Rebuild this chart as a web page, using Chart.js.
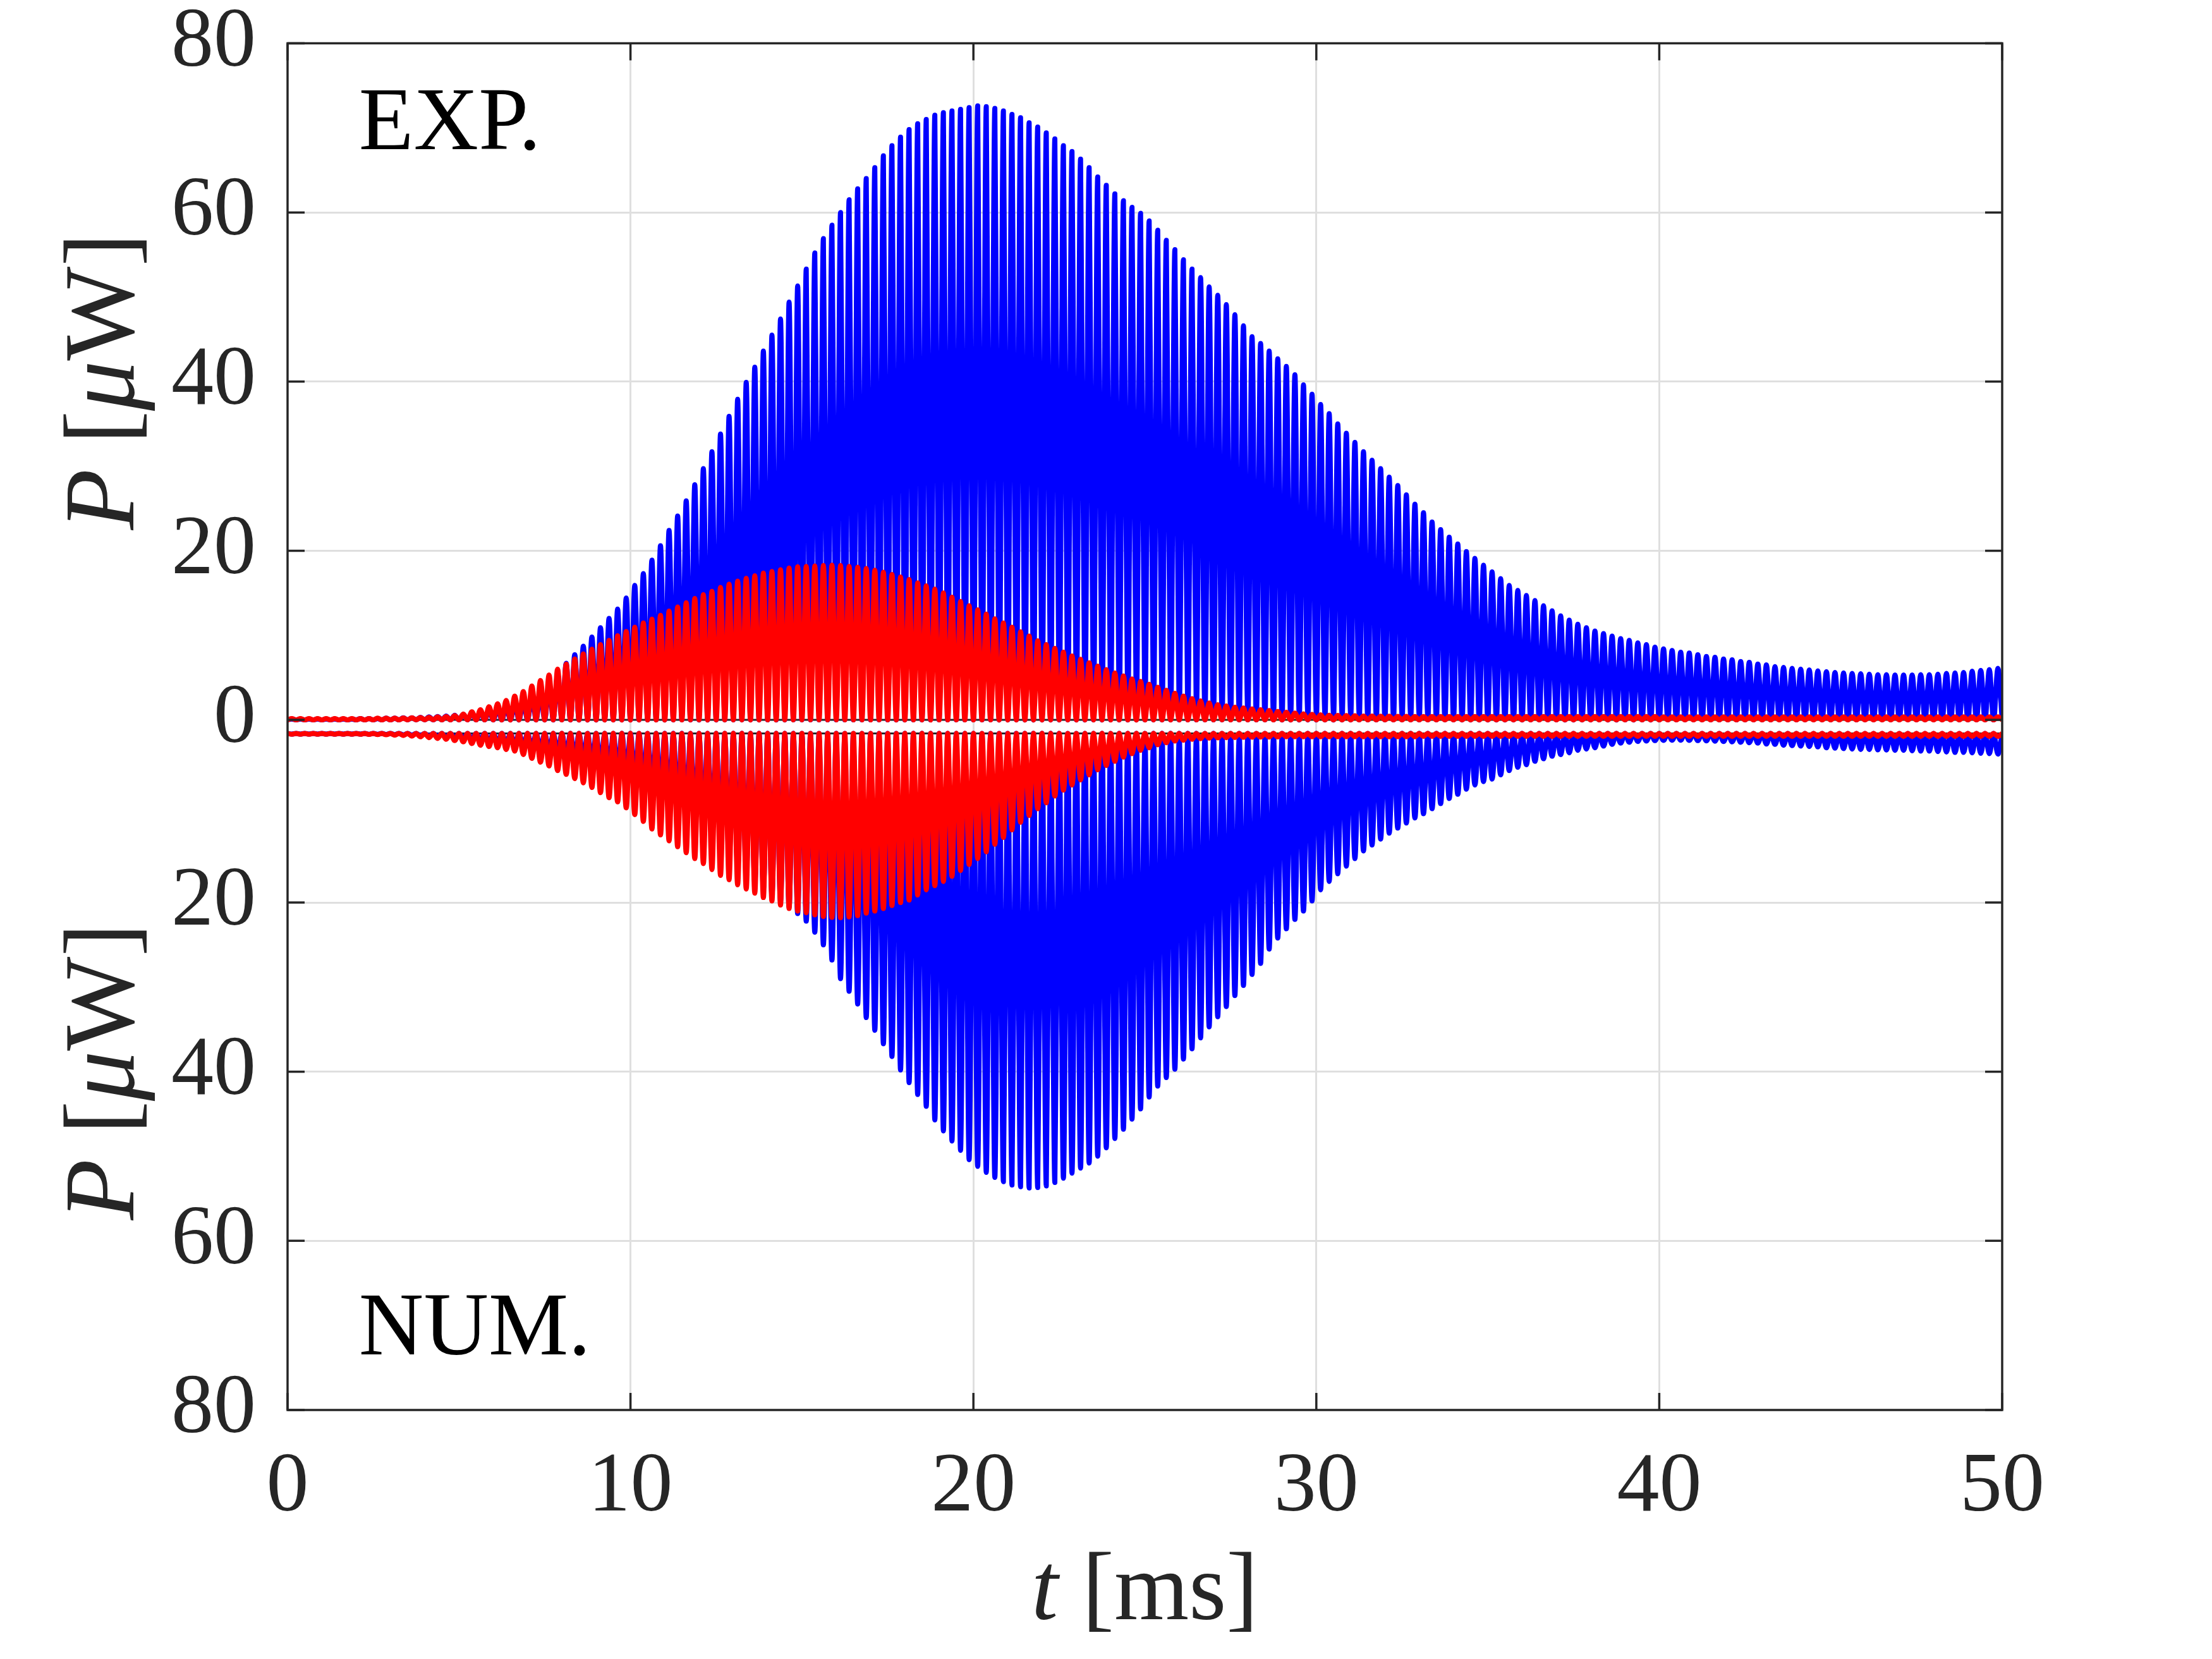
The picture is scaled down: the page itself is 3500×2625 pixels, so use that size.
<!DOCTYPE html>
<html>
<head>
<meta charset="utf-8">
<script src="https://cdn.jsdelivr.net/npm/chart.js@4.4.1/dist/chart.umd.min.js"></script>
<style>
  html, body { margin: 0; padding: 0; background: #fff; }
  canvas { display: block; }
</style>
</head>
<body>
<canvas id="powerChart" width="3500" height="2625"></canvas>
<script>
// peak power of each oscillation cycle [uW], cycles are 0.25 ms apart
const cyclePeriod = 0.25;      // ms
const troughPower = 0;         // power falls back to zero every cycle
const panelGap = 1.6;          // blank strip between the EXP. and NUM. halves

const expBlue = [
    0.1, 0.1, 0.1, 0.1, 0.1, 0.1, 0.1, 0.1, 0.15, 0.15, 0.15, 0.2, 0.2, 0.25, 0.25, 0.3, 0.35, 0.4, 0.45, 0.55,
    0.65, 0.8, 0.95, 1.1, 1.3, 1.55, 1.85, 2.2, 2.8, 3.4, 4.3, 5.4, 6.7, 7.7, 8.7, 9.8, 10.9, 12.0, 13.1, 14.4,
    15.9, 17.3, 18.9, 20.6, 22.4, 24.1, 25.9, 27.8, 29.7, 31.7, 33.8, 35.9, 37.9, 39.9, 41.7, 43.6, 45.5, 47.4, 49.4, 51.3,
    53.3, 55.2, 56.9, 58.5, 60.0, 61.5, 62.8, 64.0, 65.3, 66.7, 67.9, 68.9, 69.8, 70.5, 71.0, 71.5, 71.8, 72.0, 72.2, 72.4,
    72.6, 72.5, 72.3, 72.0, 71.6, 71.2, 70.6, 70.1, 69.4, 68.7, 67.9, 67.2, 66.3, 65.3, 64.2, 63.2, 62.2, 61.4, 60.6, 59.9,
    59.0, 57.9, 56.7, 55.6, 54.4, 53.3, 52.3, 51.2, 50.2, 49.1, 47.9, 46.6, 45.3, 44.5, 43.6, 42.7, 41.8, 40.8, 39.6, 38.5,
    37.3, 36.2, 35.0, 33.9, 32.8, 31.7, 30.7, 29.7, 28.7, 27.7, 26.6, 25.5, 24.5, 23.4, 22.5, 21.6, 20.8, 19.9, 19.1, 18.3,
    17.5, 16.7, 15.9, 15.3, 14.7, 14.1, 13.5, 12.9, 12.3, 11.8, 11.3, 10.9, 10.5, 10.2, 9.9, 9.6, 9.4, 9.1, 8.9, 8.6,
    8.4, 8.2, 8.0, 7.9, 7.7, 7.5, 7.4, 7.2, 7.1, 6.9, 6.8, 6.6, 6.5, 6.3, 6.2, 6.1, 6.0, 5.9, 5.8, 5.7,
    5.6, 5.55, 5.5, 5.45, 5.4, 5.35, 5.35, 5.3, 5.3, 5.3, 5.35, 5.35, 5.4, 5.5, 5.55, 5.6, 5.75, 5.85, 5.95, 6.1
];

const expRed = [
    0.15, 0.15, 0.15, 0.15, 0.15, 0.15, 0.15, 0.15, 0.15, 0.15, 0.2, 0.2, 0.2, 0.22, 0.25, 0.28, 0.3, 0.35, 0.4, 0.5,
    0.7, 0.95, 1.2, 1.55, 1.9, 2.3, 2.8, 3.35, 4.0, 4.65, 5.3, 6.0, 6.6, 7.2, 7.8, 8.35, 8.9, 9.4, 9.95, 10.45,
    10.95, 11.45, 11.9, 12.35, 12.85, 13.35, 13.85, 14.35, 14.8, 15.2, 15.65, 16.05, 16.4, 16.75, 17.05, 17.35, 17.55, 17.75, 17.95, 18.1,
    18.15, 18.2, 18.25, 18.3, 18.25, 18.15, 18.05, 17.9, 17.7, 17.45, 17.2, 16.9, 16.6, 16.2, 15.85, 15.45, 15.0, 14.5, 14.0, 13.5,
    13.0, 12.5, 11.95, 11.45, 10.95, 10.4, 9.9, 9.35, 8.9, 8.45, 8.0, 7.55, 7.15, 6.75, 6.35, 5.95, 5.55, 5.2, 4.85, 4.55,
    4.2, 3.85, 3.5, 3.15, 2.8, 2.5, 2.25, 2.0, 1.8, 1.65, 1.5, 1.4, 1.3, 1.2, 1.1, 1.0, 0.9, 0.8, 0.72, 0.65,
    0.6, 0.55, 0.52, 0.5, 0.48, 0.46, 0.45, 0.44, 0.43, 0.42, 0.41, 0.4, 0.4, 0.4, 0.4, 0.4, 0.4, 0.4, 0.4, 0.4,
    0.4, 0.4, 0.4, 0.4, 0.4, 0.4, 0.4, 0.4, 0.4, 0.4, 0.4, 0.4, 0.4, 0.4, 0.4, 0.4, 0.4, 0.4, 0.4, 0.4,
    0.35, 0.35, 0.35, 0.35, 0.35, 0.35, 0.35, 0.35, 0.35, 0.35, 0.35, 0.35, 0.35, 0.35, 0.35, 0.35, 0.35, 0.35, 0.35, 0.35,
    0.35, 0.35, 0.35, 0.35, 0.35, 0.35, 0.35, 0.35, 0.35, 0.35, 0.35, 0.35, 0.35, 0.35, 0.35, 0.35, 0.35, 0.35, 0.35, 0.35
];

const numBlue = [
    0.08, 0.08, 0.08, 0.08, 0.08, 0.08, 0.08, 0.08, 0.08, 0.1, 0.1, 0.12, 0.15, 0.18, 0.22, 0.26, 0.32, 0.38, 0.45, 0.52,
    0.6, 0.7, 0.8, 0.9, 1.05, 1.2, 1.35, 1.5, 1.7, 1.9, 2.1, 2.35, 2.6, 2.9, 3.2, 3.5, 3.9, 4.3, 4.7, 5.2,
    5.8, 6.4, 7.1, 7.8, 8.6, 9.4, 10.3, 11.2, 12.1, 13.0, 14.0, 15.0, 15.9, 16.8, 17.7, 18.4, 19.1, 19.8, 20.5, 21.3,
    22.2, 23.5, 25.0, 26.8, 29.0, 30.5, 32.0, 33.6, 35.1, 36.7, 38.2, 39.8, 41.3, 42.7, 44.1, 45.7, 47.0, 48.2, 49.3, 50.4,
    51.2, 51.9, 52.5, 53.0, 53.4, 53.6, 53.75, 53.7, 53.5, 53.1, 52.6, 52.0, 51.4, 50.8, 50.0, 49.0, 47.9, 46.8, 45.6, 44.4,
    43.0, 41.7, 40.7, 39.7, 38.5, 37.3, 36.0, 34.7, 33.5, 32.3, 31.0, 29.8, 28.5, 27.2, 25.5, 24.2, 23.1, 22.0, 21.0, 19.8,
    18.5, 17.5, 16.6, 15.7, 14.8, 13.9, 13.2, 12.5, 11.8, 11.2, 10.6, 10.0, 9.5, 8.9, 8.3, 7.7, 7.2, 6.6, 6.1, 5.7,
    5.4, 4.9, 4.4, 4.0, 3.7, 3.3, 3.0, 2.7, 2.5, 2.3, 2.0, 1.85, 1.7, 1.5, 1.3, 1.15, 1.05, 0.95, 0.9, 0.85,
    0.82, 0.8, 0.8, 0.82, 0.85, 0.88, 0.92, 0.96, 1.0, 1.05, 1.1, 1.15, 1.25, 1.3, 1.4, 1.45, 1.5, 1.55, 1.6, 1.7,
    1.75, 1.8, 1.85, 1.9, 1.9, 1.95, 1.97, 2.0, 2.0, 2.05, 2.1, 2.1, 2.15, 2.2, 2.25, 2.25, 2.3, 2.35, 2.4, 2.45
];

const numRed = [
    0.1, 0.1, 0.1, 0.1, 0.1, 0.1, 0.1, 0.1, 0.1, 0.12, 0.14, 0.16, 0.2, 0.25, 0.32, 0.4, 0.5, 0.6, 0.7, 0.85,
    1.0, 1.2, 1.4, 1.55, 1.7, 1.9, 2.1, 2.5, 2.95, 3.4, 3.85, 4.4, 4.85, 5.35, 5.85, 6.4, 7.0, 7.6, 8.1, 8.8,
    9.6, 10.4, 11.3, 12.0, 12.7, 13.4, 14.1, 14.8, 15.4, 16.1, 16.8, 17.3, 17.9, 18.4, 18.9, 19.4, 19.8, 20.3, 20.7, 21.0,
    21.2, 21.45, 21.65, 21.75, 21.8, 21.7, 21.55, 21.25, 21.0, 20.7, 20.35, 20.0, 19.7, 19.1, 18.5, 18.0, 17.5, 16.9, 16.2, 15.5,
    14.8, 14.0, 13.1, 12.3, 11.4, 10.5, 9.7, 8.9, 8.2, 7.4, 6.7, 6.1, 5.5, 4.9, 4.3, 3.8, 3.3, 2.8, 2.4, 2.0,
    1.7, 1.35, 1.1, 0.9, 0.8, 0.7, 0.62, 0.56, 0.52, 0.5, 0.48, 0.46, 0.45, 0.44, 0.43, 0.42, 0.4, 0.4, 0.4, 0.4,
    0.4, 0.4, 0.4, 0.4, 0.4, 0.4, 0.4, 0.4, 0.4, 0.4, 0.4, 0.4, 0.35, 0.35, 0.35, 0.35, 0.35, 0.35, 0.35, 0.35,
    0.35, 0.35, 0.35, 0.35, 0.35, 0.35, 0.35, 0.35, 0.35, 0.35, 0.35, 0.35, 0.35, 0.35, 0.35, 0.35, 0.35, 0.35, 0.35, 0.35,
    0.35, 0.35, 0.35, 0.35, 0.35, 0.35, 0.35, 0.35, 0.35, 0.35, 0.35, 0.35, 0.35, 0.35, 0.35, 0.35, 0.35, 0.35, 0.35, 0.35,
    0.35, 0.35, 0.35, 0.35, 0.35, 0.35, 0.35, 0.35, 0.35, 0.35, 0.35, 0.35, 0.35, 0.35, 0.35, 0.35, 0.35, 0.35, 0.35, 0.35
];

const xTicks = [0, 10, 20, 30, 40, 50];
const yTicksUpper = [80, 60, 40, 20, 0];
const yTicksLower = [20, 40, 60, 80];

const SERIF = '"Liberation Serif", "DejaVu Serif", serif';
const INK = '#262626';

// lower panel is drawn downwards, below a small gap
function toAxis(v, lower) {
    return lower ? -(panelGap + v) : v;
}

function buildSeries(peaks, lower) {
    const pts = [];
    peaks.forEach((p, i) => {
        pts.push({ x: i * cyclePeriod, y: toAxis(troughPower, lower) });
        pts.push({ x: (i + 0.5) * cyclePeriod, y: toAxis(p, lower) });
    });
    pts.push({ x: peaks.length * cyclePeriod, y: toAxis(troughPower, lower) });
    return pts;
}

function lineDataset(peaks, lower, color) {
    return {
        data: buildSeries(peaks, lower),
        borderColor: color,
        borderWidth: 8,
        borderJoinStyle: 'round',
        pointRadius: 0,
        tension: 0.33,
        fill: false
    };
}

function drawRich(ctx, parts, size, cx, baseline) {
    const fonts = parts.map(p => (p[1] ? 'italic ' : '') + size + 'px ' + SERIF);
    let total = 0;
    const widths = parts.map((p, i) => {
        ctx.font = fonts[i];
        const w = ctx.measureText(p[0]).width;
        total += w;
        return w;
    });
    let x = cx - total / 2;
    parts.forEach((p, i) => {
        ctx.font = fonts[i];
        ctx.fillText(p[0], x, baseline);
        x += widths[i];
    });
}

const panelDecor = {
    id: 'panelDecor',
    beforeDatasetsDraw(chart) {
        const { ctx, chartArea: a, scales: { y } } = chart;
        ctx.save();
        ctx.strokeStyle = INK;
        ctx.lineWidth = 3;
        [toAxis(0, false), toAxis(0, true)].forEach(v => {
            const py = y.getPixelForValue(v);
            ctx.beginPath();
            ctx.moveTo(a.left, py);
            ctx.lineTo(a.right, py);
            ctx.stroke();
        });
        ctx.restore();
    },
    afterDatasetsDraw(chart) {
        const { ctx, chartArea: a, scales: { x, y } } = chart;
        const tickLen = 27;
        ctx.save();
        ctx.strokeStyle = INK;
        ctx.lineWidth = 3.5;
        ctx.strokeRect(a.left, a.top, a.right - a.left, a.bottom - a.top);
        ctx.beginPath();
        xTicks.forEach(t => {
            const px = x.getPixelForValue(t);
            ctx.moveTo(px, a.bottom); ctx.lineTo(px, a.bottom - tickLen);
            ctx.moveTo(px, a.top); ctx.lineTo(px, a.top + tickLen);
        });
        const yVals = yTicksUpper.map(v => toAxis(v, false)).concat(yTicksLower.map(v => toAxis(v, true)));
        yVals.forEach(v => {
            const py = y.getPixelForValue(v);
            ctx.moveTo(a.left, py); ctx.lineTo(a.left + tickLen, py);
            ctx.moveTo(a.right, py); ctx.lineTo(a.right - tickLen, py);
        });
        ctx.stroke();
        ctx.restore();
    },
    afterDraw(chart) {
        const { ctx, chartArea: a, scales: { x, y } } = chart;
        ctx.save();
        ctx.fillStyle = '#000';
        ctx.textAlign = 'left';
        ctx.textBaseline = 'alphabetic';
        ctx.font = '142px ' + SERIF;
        ctx.fillText('EXP.', x.getPixelForValue(2.08), y.getPixelForValue(toAxis(67.5, false)));
        ctx.fillText('NUM.', x.getPixelForValue(2.08), y.getPixelForValue(toAxis(73.4, true)));

        ctx.fillStyle = INK;
        drawRich(ctx, [['t', true], [' [ms]', false]], 152, (a.left + a.right) / 2, a.bottom + 331);

        const upperMid = (y.getPixelForValue(toAxis(80, false)) + y.getPixelForValue(toAxis(0, false))) / 2;
        const lowerMid = (y.getPixelForValue(toAxis(0, true)) + y.getPixelForValue(toAxis(80, true))) / 2;
        [upperMid, lowerMid].forEach(cy => {
            ctx.save();
            ctx.translate(211, cy);
            ctx.rotate(-Math.PI / 2);
            drawRich(ctx, [['P', true], [' [', false], ['\u03bc', true], ['W]', false]], 158, 0, 0);
            ctx.restore();
        });
        ctx.restore();
    }
};

new Chart(document.getElementById('powerChart').getContext('2d'), {
    type: 'line',
    data: {
        datasets: [
            lineDataset(expRed, false, '#ff0000'),
            lineDataset(numRed, true, '#ff0000'),
            lineDataset(expBlue, false, '#0000ff'),
            lineDataset(numBlue, true, '#0000ff')
        ]
    },
    options: {
        responsive: false,
        devicePixelRatio: 1,
        animation: false,
        events: [],
        layout: { padding: { top: 68.5, right: 332, left: 0, bottom: 0 } },
        plugins: { legend: { display: false }, tooltip: { enabled: false } },
        scales: {
            x: {
                type: 'linear',
                min: 0,
                max: 50,
                afterBuildTicks: scale => { scale.ticks = xTicks.map(v => ({ value: v })); },
                afterFit: scale => { scale.height = 394; },
                ticks: {
                    font: { family: SERIF, size: 134, lineHeight: 1 },
                    color: INK, padding: 57, maxRotation: 0, autoSkip: false
                },
                grid: {
                    color: ctx => (ctx.tick && (ctx.tick.value === 0 || ctx.tick.value === 50)) ? 'rgba(0,0,0,0)' : '#dfdfdf',
                    lineWidth: 3,
                    drawTicks: false
                },
                border: { display: false }
            },
            y: {
                type: 'linear',
                min: toAxis(80, true),
                max: 80,
                afterBuildTicks: scale => {
                    scale.ticks = yTicksUpper.map(v => ({ value: toAxis(v, false) }))
                        .concat(yTicksLower.map(v => ({ value: toAxis(v, true) })));
                },
                afterFit: scale => { scale.width = 455; },
                ticks: {
                    // small line height keeps the top label from pushing the plot down
                    font: { family: SERIF, size: 134, lineHeight: 0.1 },
                    color: INK,
                    padding: 50,
                    callback: value => value >= 0 ? value : Math.round(-value - panelGap)
                },
                grid: {
                    color: ctx => {
                        const v = ctx.tick ? ctx.tick.value : 0;
                        return (v === 80 || v === 0 || v === toAxis(80, true)) ? 'rgba(0,0,0,0)' : '#dfdfdf';
                    },
                    lineWidth: 3,
                    drawTicks: false
                },
                border: { display: false }
            }
        }
    },
    plugins: [panelDecor]
});
</script>
</body>
</html>
